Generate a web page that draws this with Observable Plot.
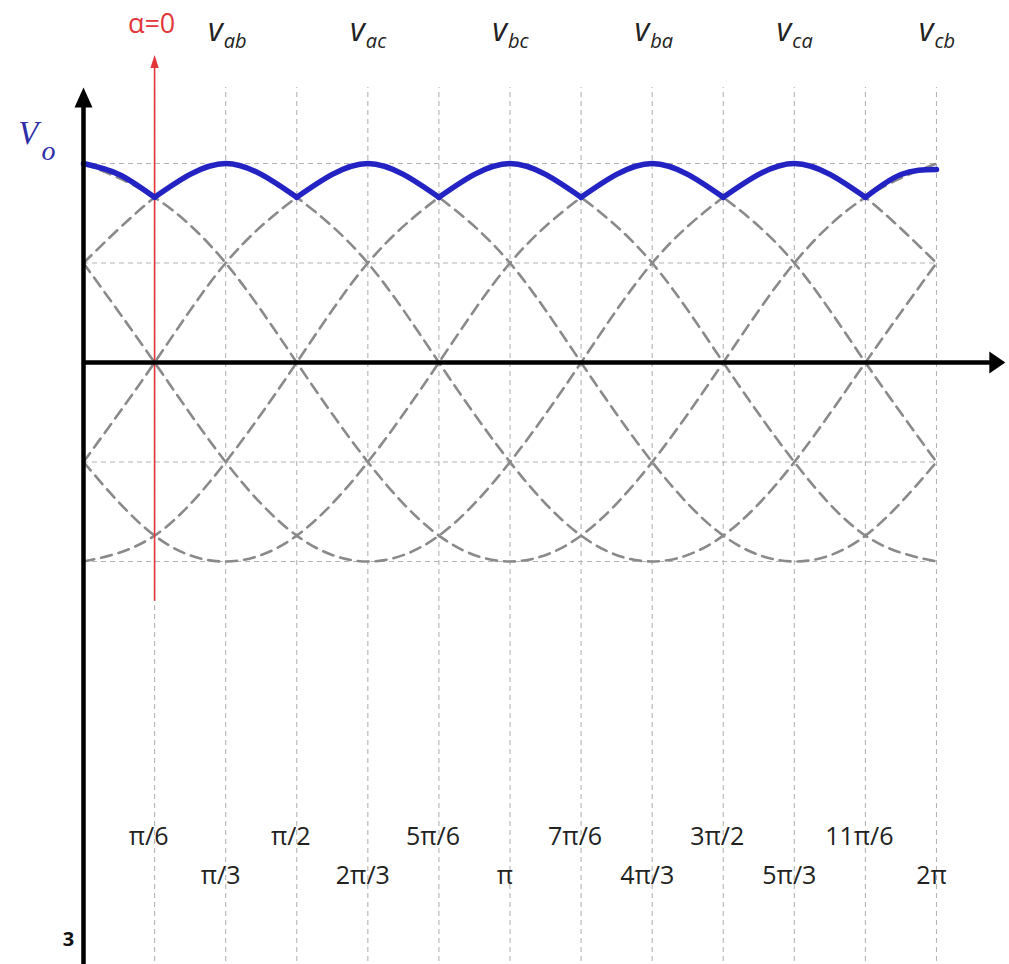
<!DOCTYPE html>
<html>
<head>
<meta charset="utf-8">
<script src="https://cdn.jsdelivr.net/npm/d3@7"></script>
<script src="https://cdn.jsdelivr.net/npm/@observablehq/plot@0.6"></script>
<style>
  html, body { margin: 0; padding: 0; background: #fff; overflow: hidden; }
  #chart svg { display: block; }
</style>
</head>
<body>
<div id="chart"></div>
<script>
const PI = Math.PI;

// Phase angle grid (multiples of π/6) and its tick labels
const gridAngles = [0, PI/6, PI/3, PI/2, 2*PI/3, 5*PI/6, PI, 7*PI/6, 4*PI/3, 3*PI/2, 5*PI/3, 11*PI/6, 2*PI];
const tickAngles = gridAngles.slice(1);
const tickLabels = ["π/6", "π/3", "π/2", "2π/3", "5π/6", "π", "7π/6", "4π/3", "3π/2", "5π/3", "11π/6", "2π"];

// Line-to-line voltages (per unit of peak) at each grid angle
const vab = [0.5, 0.83, 1, 0.83, 0.5, 0, -0.5, -0.87, -1, -0.87, -0.5, 0, 0.5];
const vac = [-0.5, 0, 0.5, 0.83, 1, 0.83, 0.5, 0, -0.5, -0.87, -1, -0.87, -0.5];
const vbc = [-1, -0.87, -0.5, 0, 0.5, 0.83, 1, 0.83, 0.5, 0, -0.5, -0.87, -1];
const vba = [-0.5, -0.87, -1, -0.87, -0.5, 0, 0.5, 0.83, 1, 0.83, 0.5, 0, -0.5];
const vca = [0.5, 0, -0.5, -0.87, -1, -0.87, -0.5, 0, 0.5, 0.83, 1, 0.83, 0.5];
const vcb = [1, 0.83, 0.5, 0, -0.5, -0.87, -1, -0.87, -0.5, 0, 0.5, 0.83, 1];

// Names shown above each voltage's peak, and the peak angles
const seriesNames = ["ab", "ac", "bc", "ba", "ca", "cb"];
const peakAngles = [PI/3, 2*PI/3, PI, 4*PI/3, 5*PI/3, 2*PI];

// Rectified output Vo sampled every π/12
const envAngles = d3.range(25).map(i => i * PI / 12);
const envValues = [1, 0.945, 0.83, 0.945, 1, 0.945, 0.83, 0.945, 1, 0.945, 0.83, 0.945, 1,
                   0.945, 0.83, 0.945, 1, 0.945, 0.83, 0.945, 1, 0.945, 0.83, 0.945, 0.97];

// Firing angle marker
const alphaAngle = [PI/6];

// ---- tables for the marks ----
const seriesValues = [vab, vac, vbc, vba, vca, vcb];
const waveRows = [];
seriesValues.forEach((vals, s) => {
  vals.forEach((v, i) => waveRows.push({t: gridAngles[i], v, name: seriesNames[s]}));
});

// split the output into arcs joined at the commutation points
const envRows = [];
envAngles.forEach((t, i) => {
  const a = Math.floor((i + 1) / 4);
  envRows.push({t, v: envValues[i], arc: a});
  if (i % 4 === 2) envRows.push({t, v: envValues[i], arc: a + 1});
});

// filled arrowheads with the tip at the anchor point
function upHead(hw) {
  return {draw(ctx, size) {
    const k = Math.sqrt(size / Math.PI);
    ctx.moveTo(0, 0); ctx.lineTo(-hw * k, k); ctx.lineTo(hw * k, k); ctx.closePath();
  }};
}
function rightHead(hw) {
  return {draw(ctx, size) {
    const k = Math.sqrt(size / Math.PI);
    ctx.moveTo(0, 0); ctx.lineTo(-k, -hw * k); ctx.lineTo(-k, hw * k); ctx.closePath();
  }};
}

const gridColor = "#b4b4b4";
const waveColor = "#8a8a8a";
const blue = "#2323c4";
const red = "#e2363a";

const chart = Plot.plot({
  width: 1009,
  height: 964,
  margin: 0,
  x: {domain: [0, 2 * PI], range: [83, 936], axis: null},
  y: {domain: [-1, 1], range: [561, 163], axis: null},
  style: {background: "#fff", fontFamily: "Open Sans, Lato, sans-serif", color: "#222"},
  marks: [
    // vertical grid at every π/6
    Plot.ruleX(tickAngles, {y1: -3.1, y2: 1.382, stroke: gridColor, strokeWidth: 1.1, strokeDasharray: "5,4"}),
    // horizontal grid at ±peak and ±half peak
    Plot.ruleY([1, 0.5, -0.5, -1], {x1: 0, x2: 2 * PI, stroke: gridColor, strokeWidth: 1.1, strokeDasharray: "5,4"}),
    // the six line voltages
    Plot.line(waveRows, {x: "t", y: "v", z: "name", curve: "natural", stroke: waveColor,
      strokeWidth: 2.6, strokeDasharray: "11,7"}),
    // alpha = 0 marker
    Plot.ruleX(alphaAngle, {y1: -1.2, y2: 1.5, stroke: red, strokeWidth: 1.6}),
    Plot.dot(alphaAngle, {x: d => d, y: 1.545, r: 13, symbol: upHead(0.32), fill: red, stroke: "none"}),
    // output voltage
    Plot.line(envRows, {x: "t", y: "v", z: "arc", curve: "natural", stroke: blue,
      strokeWidth: 5.5, strokeLinecap: "round", strokeLinejoin: "round"}),
    // axes with arrowheads
    Plot.ruleY([0], {x1: 0, x2: 6.68, stroke: "#000", strokeWidth: 4.5}),
    Plot.dot([0], {x: 6.79, y: 0, r: 16, symbol: rightHead(0.68), fill: "#000", stroke: "none"}),
    Plot.ruleX([0], {y1: -3.1, y2: 1.3, stroke: "#000", strokeWidth: 4.5}),
    Plot.dot([0], {x: 0, y: 1.382, r: 20, symbol: upHead(0.45), fill: "#000", stroke: "none"}),
    // labels
    Plot.text(alphaAngle, {x: d => d, y: 1.655, text: () => "α=0", fill: red, fontSize: 27,
      lineAnchor: "bottom", dx: -3}),
    Plot.text(peakAngles, {x: d => d, y: 1.618, text: () => "v", fontSize: 32, fontStyle: "italic",
      textAnchor: "end", lineAnchor: "bottom", dx: -3, fill: "#222"}),
    Plot.text(peakAngles, {x: d => d, y: 1.58, text: (d, i) => seriesNames[i], fontSize: 20,
      fontStyle: "italic", textAnchor: "start", lineAnchor: "bottom", dx: -2, fill: "#222"}),
    Plot.text([0], {x: 0, y: 1.10, text: () => "V", fontSize: 33, fontStyle: "italic",
      fontFamily: "Liberation Serif, serif", textAnchor: "end", lineAnchor: "bottom", dx: -45, fill: "#2e2ea8"}),
    Plot.text([0], {x: 0, y: 1.02, text: () => "o", fontSize: 28, fontStyle: "italic",
      fontFamily: "Liberation Serif, serif", textAnchor: "start", lineAnchor: "bottom", dx: -42, fill: "#2e2ea8"}),
    Plot.text(tickAngles.filter((d, i) => i % 2 === 0), {x: d => d, y: -2.427,
      text: (d, i) => tickLabels[2 * i], fontSize: 25, lineAnchor: "bottom", dx: -6, fill: "#222"}),
    Plot.text(tickAngles.filter((d, i) => i % 2 === 1), {x: d => d, y: -2.623,
      text: (d, i) => tickLabels[2 * i + 1], fontSize: 25, lineAnchor: "bottom", dx: -5, fill: "#222"}),
    Plot.text([0], {x: 0, y: -2.93, text: () => "3", fontSize: 20, fontWeight: "bold",
      lineAnchor: "bottom", dx: -15, fill: "#111"})
  ]
});

document.getElementById("chart").appendChild(chart);
</script>
</body>
</html>
